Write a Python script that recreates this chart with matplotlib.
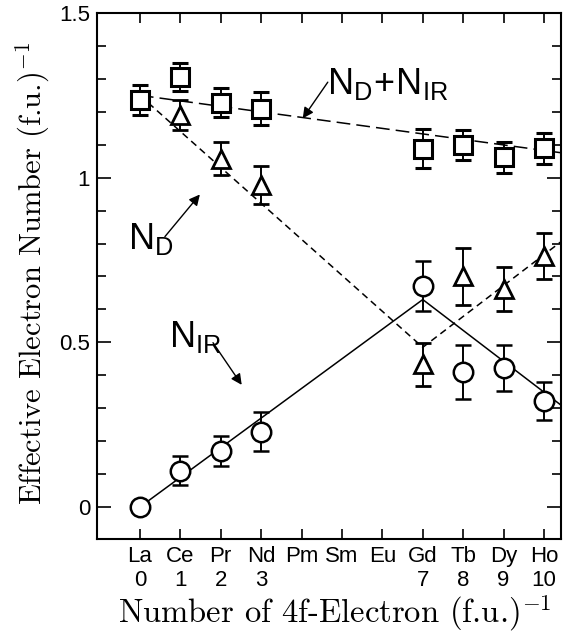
import matplotlib
matplotlib.use("Agg")
import matplotlib.pyplot as plt
from matplotlib.ticker import MultipleLocator, FixedLocator

plt.rcParams['mathtext.fontset'] = 'cm'
plt.rcParams['font.family'] = ['Liberation Sans', 'DejaVu Sans']

# ---- data ----
elements = ['La', 'Ce', 'Pr', 'Nd', 'Pm', 'Sm', 'Eu', 'Gd', 'Tb', 'Dy', 'Ho']
n4f = ['0', '1', '2', '3', '', '', '', '7', '8', '9', '10']
positions = list(range(len(elements)))

sq_x = [0, 1, 2, 3, 7, 8, 9, 10]
sq_y = [1.235, 1.305, 1.228, 1.21, 1.088, 1.10, 1.062, 1.09]
sq_err = [0.045, 0.042, 0.043, 0.05, 0.06, 0.045, 0.047, 0.047]

tri_x = [1, 2, 3, 7, 8, 9, 10]
tri_y = [1.19, 1.058, 0.977, 0.433, 0.70, 0.662, 0.762]
tri_err = [0.045, 0.05, 0.057, 0.066, 0.088, 0.067, 0.07]

circ_x = [0, 1, 2, 3, 7, 8, 9, 10]
circ_y = [0.0, 0.11, 0.171, 0.229, 0.672, 0.41, 0.421, 0.321]
circ_err = [0.0, 0.044, 0.046, 0.06, 0.076, 0.082, 0.07, 0.058]

sum_fit_x = [0, 11]
sum_fit_y = [1.25, 1.066]
nd_fit_x = [0, 7, 11]
nd_fit_y = [1.25, 0.485, 0.86]
nir_fit_x = [0, 7, 11]
nir_fit_y = [0.0, 0.63, 0.255]

# ---- figure ----
fig = plt.figure(figsize=(5.63, 6.36), dpi=100)
ax = fig.add_axes([97 / 563, 97 / 636, 464 / 563, 526 / 636])

ax.plot(sum_fit_x, sum_fit_y, color='k', lw=1.1, dashes=(9, 4), zorder=1)
ax.plot(nd_fit_x, nd_fit_y, color='k', lw=1.1, dashes=(4.5, 3), zorder=1)
ax.plot(nir_fit_x, nir_fit_y, color='k', lw=1.1, zorder=1)

common = dict(ls='none', color='k', mfc='white', mec='k', ecolor='k',
              elinewidth=1.4, capsize=5.5, capthick=1.6)
ax.errorbar(sq_x, sq_y, yerr=sq_err, marker='s', ms=12.5, mew=2.2, zorder=3, **common)
ax.errorbar(tri_x, tri_y, yerr=tri_err, marker='^', ms=13, mew=2.0, zorder=3, **common)
ax.errorbar(circ_x, circ_y, yerr=circ_err, marker='o', ms=14, mew=1.8, zorder=3, **common)

ax.set_xlim(-1.06, 10.42)
ax.set_ylim(-0.097, 1.5)

ax.xaxis.set_major_locator(FixedLocator(positions))
ax.set_xticklabels([f"{e}\n{n}" for e, n in zip(elements, n4f)], linespacing=1.2)
ax.yaxis.set_major_locator(FixedLocator([0, 0.5, 1, 1.5]))
ax.set_yticklabels(['0', '0.5', '1', '1.5'])
ax.yaxis.set_minor_locator(MultipleLocator(0.1))

ax.tick_params(axis='x', which='major', direction='in', length=7, width=1.2,
               top=True, labelsize=16, pad=5)
ax.tick_params(axis='y', which='major', direction='in', length=10, width=1.2,
               right=True, labelsize=16, pad=5)
ax.tick_params(axis='y', which='minor', direction='in', length=6.5, width=1.2,
               right=True)
for s in ax.spines.values():
    s.set_linewidth(1.5)

ax.set_xlabel('Number of 4f-Electron (f.u.)$^{-1}$', fontsize=23.5, family='cmr10')
ax.xaxis.set_label_coords(0.513, -0.102)
ax.set_ylabel('Effective Electron Number (f.u.)$^{-1}$', fontsize=22, family='cmr10')
ax.yaxis.set_label_coords(-0.097, 0.505)

arrow = dict(arrowstyle='-|>', color='k', lw=1.0, mutation_scale=16, shrinkA=0, shrinkB=0)
ax.annotate('', xy=(4.03, 1.18), xytext=(4.65, 1.29), arrowprops=arrow)
ax.text(4.62, 1.253, r'$\mathregular{N_D\!+\!N_{IR}}$', fontsize=26, ha='left', va='baseline')

ax.annotate('', xy=(1.485, 0.949), xytext=(0.62, 0.821), arrowprops=arrow)
ax.text(-0.29, 0.782, r'$\mathregular{N_D}$', fontsize=26, ha='left', va='baseline')

ax.annotate('', xy=(2.52, 0.371), xytext=(1.81, 0.499), arrowprops=arrow)
ax.text(0.72, 0.487, r'$\mathregular{N_{IR}}$', fontsize=26, ha='left', va='baseline')

fig.savefig('out.png', dpi=100)
